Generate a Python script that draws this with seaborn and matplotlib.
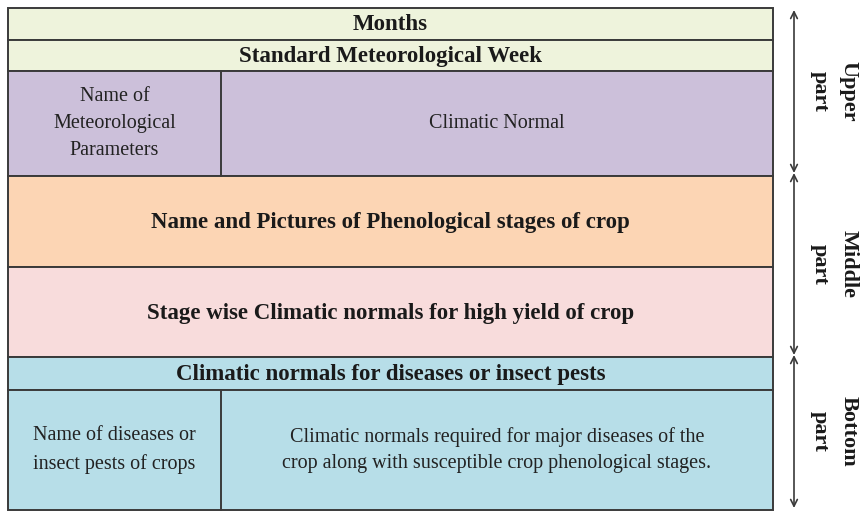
import matplotlib.pyplot as plt
import seaborn as sns

sns.set_theme(style="white")
plt.rcParams['font.family'] = ['Liberation Serif', 'DejaVu Serif']

# rows of the layout table (top to bottom)
row_labels = ["Months",
              "Standard Meteorological Week",
              "",
              "Name and Pictures of Phenological stages of crop",
              "Stage wise Climatic normals for high yield of crop",
              "Climatic normals for diseases or insect pests",
              ""]
row_tops = [8, 40, 71, 176, 267, 357, 390]
row_bottoms = [40, 71, 176, 267, 357, 390, 510]
row_colors = ["#eef3dc", "#eef3dc", "#ccc0da", "#fcd5b4", "#f8dcdc", "#b7dee8", "#b7dee8"]

# split rows: left cell text, right cell text
split_rows = {2: ("Name of\nMeteorological\nParameters", "Climatic Normal"),
              6: ("Name of diseases or\ninsect pests of crops",
                  "Climatic normals required for major diseases of the\ncrop along with susceptible crop phenological stages.")}

# parts on the right side
part_labels = ["Upper\npart", "Middle\npart", "Bottom\npart"]
part_bounds = [10, 173, 355, 508]

left, right, split_x = 8, 773, 221
edge = "#3a3a3a"

fig, ax = plt.subplots(figsize=(8.64, 5.12), dpi=100)
fig.subplots_adjust(0, 0, 1, 1)
ax.set_xlim(0, 864)
ax.set_ylim(512, 0)
ax.axis("off")

for i, lab in enumerate(row_labels):
    top, bot = row_tops[i], row_bottoms[i]
    ax.barh((top + bot) / 2, right - left, height=bot - top, left=left,
            color=row_colors[i], edgecolor=edge, linewidth=1.4)
    ym = (top + bot) / 2
    if i in split_rows:
        ax.plot([split_x, split_x], [top, bot], color=edge, lw=1.4)
        lt, rt = split_rows[i]
        ax.text((left + split_x) / 2, ym, lt, ha="center", va="center",
                fontsize=14.5, color="#222222", linespacing=1.6)
        ax.text((split_x + right) / 2, ym, rt, ha="center", va="center",
                fontsize=14.5, color="#222222", linespacing=1.45)
    else:
        ax.text((left + right) / 2, ym + 1, lab, ha="center", va="center",
                fontsize=16.5, fontweight="bold", color="#1a1a1a")

# right side vertical arrows
ax_x = 794
for j in range(3):
    y0, y1 = part_bounds[j], part_bounds[j + 1]
    ax.annotate("", xy=(ax_x, y0), xytext=(ax_x, y1),
                arrowprops=dict(arrowstyle="<->", color=edge, lw=1.2,
                                shrinkA=0, shrinkB=0))
    ax.text(834, (y0 + y1) / 2, part_labels[j], rotation=270, ha="center",
            va="center", fontsize=16, fontweight="bold", color="#1a1a1a",
            linespacing=1.55)

fig.savefig("out.png", dpi=100)
